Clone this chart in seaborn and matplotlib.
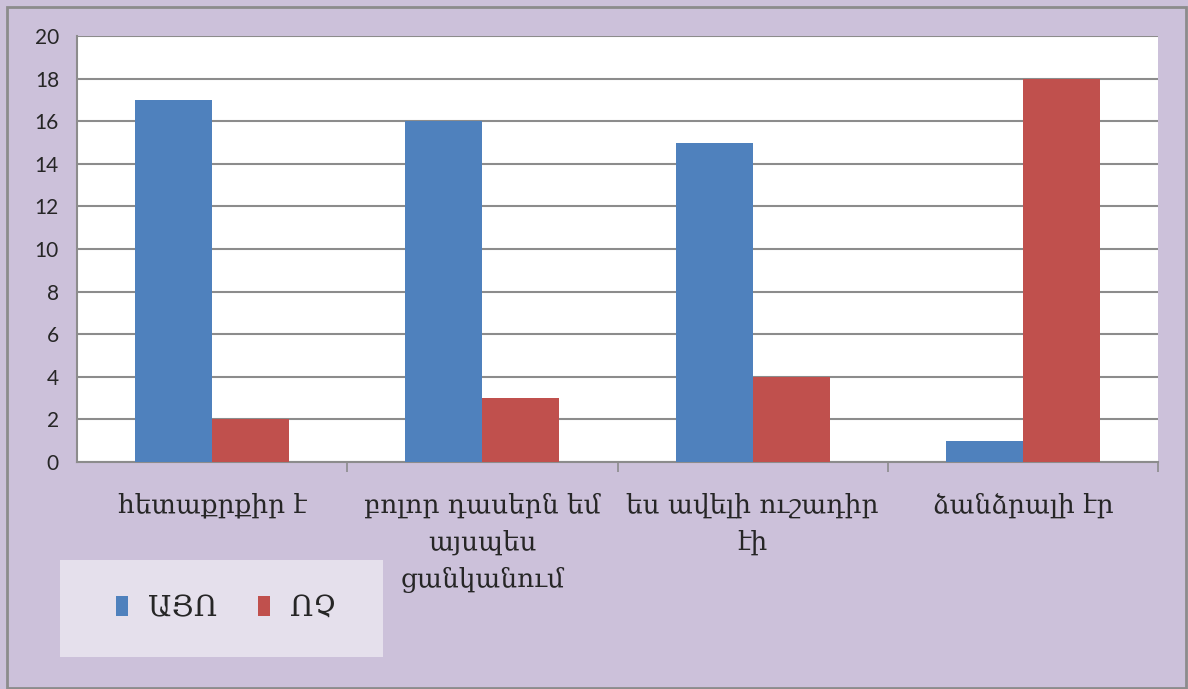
import matplotlib

matplotlib.use("Agg")

import matplotlib.pyplot as plt
import pandas as pd
import seaborn as sns
from matplotlib.patches import Patch

categories = [
    "հետաքրքիր է",
    "բոլոր դասերն եմ\nայսպես\nցանկանում",
    "ես ավելի ուշադիր\nէի",
    "ձանձրալի էր",
]
yes_values = [17, 16, 15, 1]
no_values = [2, 3, 4, 18]
series_names = ["ԱՅՈ", "ՈՉ"]
colors = ["#4F81BD", "#C0504D"]

df = pd.DataFrame({
    "category": categories * 2,
    "value": yes_values + no_values,
    "series": [series_names[0]] * 4 + [series_names[1]] * 4,
})

sns.set_theme(style="white")
plt.rcParams["font.family"] = ["Lato", "DejaVu Sans"]

fig = plt.figure(figsize=(11.88, 6.89), dpi=100, facecolor="#CCC1DA")
ax = fig.add_axes([77 / 1188, 1 - 462 / 689, (1158 - 77) / 1188, (462 - 36) / 689])
ax.set_facecolor("white")

sns.barplot(data=df, x="category", y="value", hue="series", palette=colors,
            width=0.57, gap=0, saturation=1, linewidth=0, ax=ax, legend=False, zorder=3)

ax.set_ylim(0, 20)
ax.set_yticks(range(0, 21, 2))
ax.set_xlim(-0.5, 3.5)
ax.yaxis.grid(True, color="#8C8C8C", linewidth=1.5, zorder=0)
ax.set_axisbelow(True)
ax.set_xlabel("")
ax.set_ylabel("")

for side in ["top", "right"]:
    ax.spines[side].set_visible(False)
for side in ["left", "bottom"]:
    ax.spines[side].set_color("#8C8C8C")
    ax.spines[side].set_linewidth(1.5)

ax.set_xticks([0.5, 1.5, 2.5, 3.5], minor=True)
ax.set_xticks(range(4))
ax.set_xticklabels(categories, family=["DejaVu Serif", "DejaVu Sans"], fontsize=19,
                   linespacing=1.6, va="top")
ax.tick_params(axis="x", which="major", length=0, pad=22)
ax.tick_params(axis="x", which="minor", length=7, width=1.2, color="#8C8C8C",
               direction="out", bottom=True)
ax.tick_params(axis="y", length=7, width=1.2, color="#8C8C8C", direction="out",
               labelsize=15, pad=6)

handles = [Patch(facecolor=c, edgecolor="none", label=n) for c, n in zip(colors, series_names)]
leg = fig.legend(handles=handles, loc="center left",
                 bbox_to_anchor=(116 / 1188, 1 - 608 / 689),
                 ncol=2, frameon=False,
                 prop={"family": ["DejaVu Serif", "DejaVu Sans"], "size": 21},
                 handlelength=0.4, handleheight=0.7, handletextpad=0.7,
                 borderaxespad=0, borderpad=0, columnspacing=1.4)
fig.patches.append(plt.Rectangle((60 / 1188, 1 - 657 / 689), 323 / 1188, 97 / 689,
                                 transform=fig.transFigure, facecolor="#E5E0EC",
                                 edgecolor="none", zorder=0))

border = plt.Rectangle((7 / 1188, 0.002), 1 - 9 / 1188, 1 - 8 / 689, transform=fig.transFigure,
                       fill=False, edgecolor="#8C8C8C", linewidth=2)
fig.patches.append(border)

fig.savefig("out.png", dpi=100, facecolor=fig.get_facecolor())
plt.close(fig)
